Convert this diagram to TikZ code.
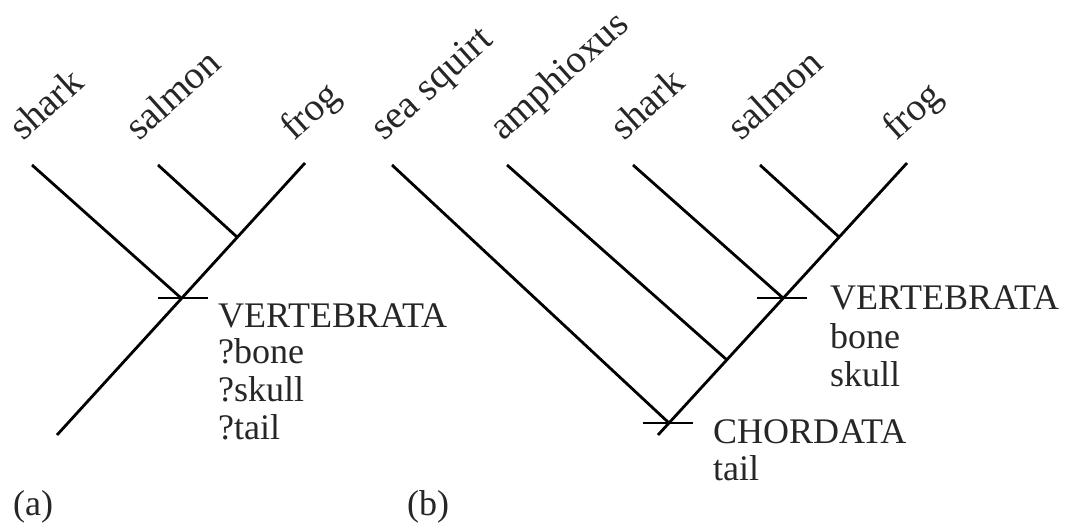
\documentclass[tikz,border=0pt]{standalone}
\usepackage{fontspec}
\setmainfont{Liberation Serif}
\begin{document}
\begin{tikzpicture}[x=1pt,y=-1pt,
  branch/.style={line width=2.8pt, black},
  tick/.style={line width=2.2pt, black},
  taxon/.style={font=\fontsize{39}{40}\selectfont, rotate=42, anchor=base west, inner sep=0pt, text=black!85},
  info/.style={font=\fontsize{36}{37}\selectfont, anchor=base west, inner sep=0pt, text=black!85}]
\useasboundingbox (0,0) rectangle (1076,526);

% ---------- panel (a) ----------
\coordinate (aSharkTip) at (32,165);
\coordinate (aSalmonTip) at (158,165);
\coordinate (aFrogTip) at (305,163);
\coordinate (aJ1) at (181,298);
\coordinate (aJ2) at (237,237);
\coordinate (aRoot) at (57,435);
\coordinate (aTickL) at (158,298);
\coordinate (aTickR) at (208,298);

\draw[branch] (aSharkTip) -- (aJ1);
\draw[branch] (aSalmonTip) -- (aJ2);
\draw[branch] (aFrogTip) -- (aRoot);
\draw[tick] (aTickL) -- (aTickR);

\node[taxon] (aShark) at (23,142) {shark};
\node[taxon] (aSalmon) at (139,142) {salmon};
\node[taxon] (aFrog) at (294,142) {frog};

\node[info] (aVert) at (218,328) {VERTEBRATA};
\node[info] (aBone) at (218,363) {?bone};
\node[info] (aSkull) at (218,401) {?skull};
\node[info] (aTail) at (218,439) {?tail};
\node[info] (aLab) at (13,515) {(a)};

% ---------- panel (b) ----------
\coordinate (bSquirtTip) at (392,165);
\coordinate (bAmphTip) at (507,165);
\coordinate (bSharkTip) at (633,165);
\coordinate (bSalmonTip) at (760,165);
\coordinate (bFrogTip) at (907,163);
\coordinate (bJ1) at (669,423);
\coordinate (bJ2) at (727,360);
\coordinate (bJ3) at (783,298);
\coordinate (bJ4) at (839,237);
\coordinate (bRoot) at (658,435);
\coordinate (bCTickL) at (643,423);
\coordinate (bCTickR) at (693,423);
\coordinate (bVTickL) at (757,298);
\coordinate (bVTickR) at (807,298);

\draw[branch] (bSquirtTip) -- (bJ1);
\draw[branch] (bAmphTip) -- (bJ2);
\draw[branch] (bSharkTip) -- (bJ3);
\draw[branch] (bSalmonTip) -- (bJ4);
\draw[branch] (bFrogTip) -- (bRoot);
\draw[tick] (bCTickL) -- (bCTickR);
\draw[tick] (bVTickL) -- (bVTickR);

\node[taxon] (bSquirt) at (384,142) {sea squirt};
\node[taxon] (bAmph) at (503,142) {amphioxus};
\node[taxon] (bShark) at (624,142) {shark};
\node[taxon] (bSalmon) at (741,142) {salmon};
\node[taxon] (bFrog) at (896,142) {frog};

\node[info] (bVert) at (830,310) {VERTEBRATA};
\node[info] (bBone) at (830,349) {bone};
\node[info] (bSkull) at (830,387) {skull};
\node[info] (bChord) at (713,443) {CHORDATA};
\node[info] (bTail) at (713,480) {tail};
\node[info] (bLab) at (407,515) {(b)};
\end{tikzpicture}
\end{document}
